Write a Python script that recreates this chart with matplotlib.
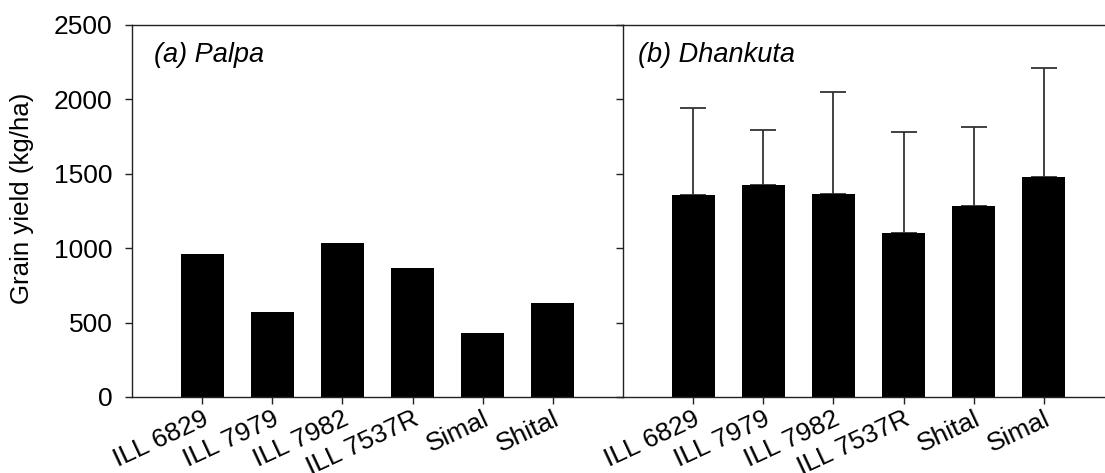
import matplotlib.pyplot as plt
import numpy as np

plt.rcParams['font.family'] = ['Liberation Sans', 'DejaVu Sans']

# (a) Palpa
palpa_names = ["ILL 6829", "ILL 7979", "ILL 7982", "ILL 7537R", "Simal", "Shital"]
palpa_yield = [963, 571, 1035, 867, 430, 632]

# (b) Dhankuta
dhankuta_names = ["ILL 6829", "ILL 7979", "ILL 7982", "ILL 7537R", "Shital", "Simal"]
dhankuta_yield = [1358, 1425, 1364, 1100, 1284, 1476]
dhankuta_upper = [1944, 1794, 2050, 1781, 1817, 2213]

W, H = 1105, 473
fs = 19
spine_col = "#222222"

fig = plt.figure(figsize=(W / 100, H / 100), dpi=100)
ax1 = fig.add_axes([132 / W, 1 - 397 / H, 491 / W, 372 / H])
ax2 = fig.add_axes([623 / W, 1 - 397 / H, 491 / W, 372 / H])

x = np.arange(1, 7)

ax1.bar(x, palpa_yield, width=0.61, color="black", zorder=2)

err = np.array(dhankuta_upper) - np.array(dhankuta_yield)
ax2.bar(x, dhankuta_yield, width=0.61, color="black", zorder=2)
ax2.errorbar(x, dhankuta_yield, yerr=[np.zeros(6), err], fmt="none",
             ecolor="#333333", elinewidth=1.3, capsize=9.5, capthick=1.3, zorder=1)

for ax, names in [(ax1, palpa_names), (ax2, dhankuta_names)]:
    ax.set_xlim(0, 7)
    ax.set_ylim(0, 2500)
    ax.set_yticks([0, 500, 1000, 1500, 2000, 2500])
    ax.set_xticks(x)
    ax.set_xticklabels(names, rotation=25, ha="right", va="top",
                       rotation_mode="anchor", fontsize=fs)
    ax.tick_params(direction="out", length=5, width=1, color=spine_col, labelsize=fs)
    ax.tick_params(axis="y", pad=9)
    ax.tick_params(axis="x", pad=2)
    for s in ax.spines.values():
        s.set_color(spine_col)
        s.set_linewidth(1)
        s.set_zorder(3)
    ax.spines["right"].set_visible(False)

ax2.set_yticklabels([])
ax1.set_ylabel("Grain yield (kg/ha)", fontsize=18.6)
ax1.yaxis.set_label_coords(-0.2, 0.535)

ax1.text(0.045, 0.9, "(a) Palpa", transform=ax1.transAxes, fontsize=19.5,
         style="italic", va="baseline")
ax2.text(0.031, 0.9, "(b) Dhankuta", transform=ax2.transAxes, fontsize=19.5,
         style="italic", va="baseline")

fig.savefig("out.png", dpi=100)
